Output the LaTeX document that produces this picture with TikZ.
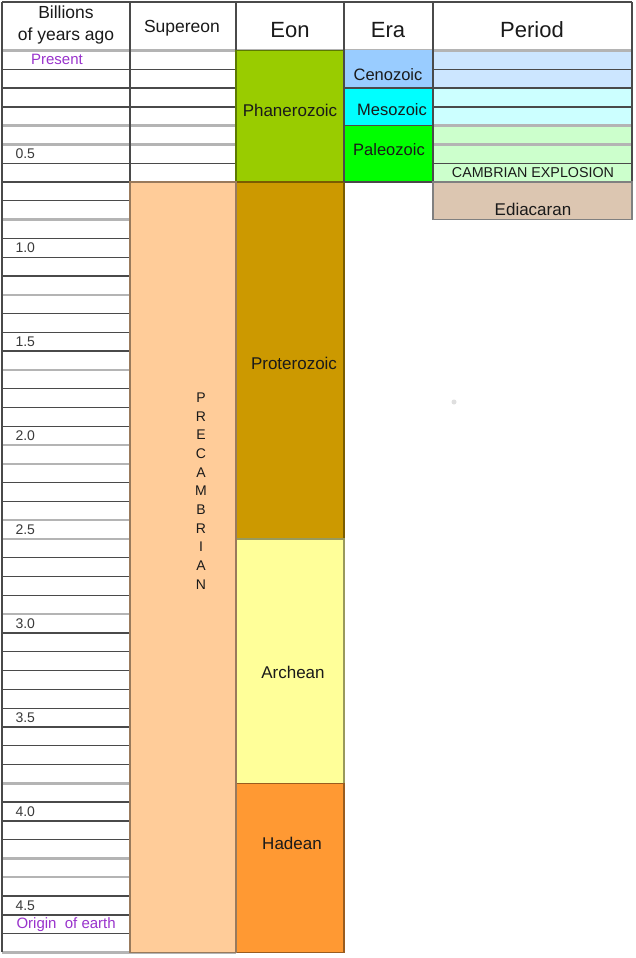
\documentclass[tikz,border=0pt]{standalone}
\usepackage{fontspec}
\setmainfont{Liberation Sans}
\definecolor{phan}{HTML}{99CC00}
\definecolor{prot}{HTML}{CC9900}
\definecolor{arch}{HTML}{FFFF99}
\definecolor{hade}{HTML}{FF9933}
\definecolor{prec}{HTML}{FFCC99}
\definecolor{ceno}{HTML}{99CCFF}
\definecolor{meso}{HTML}{00FFFF}
\definecolor{pale}{HTML}{00FF00}
\definecolor{pceno}{HTML}{CCE6FF}
\definecolor{pmeso}{HTML}{CCFFFF}
\definecolor{ppale}{HTML}{CCFFCC}
\definecolor{edia}{HTML}{DCC6B1}
\definecolor{purp}{HTML}{9933CC}
\definecolor{darkl}{HTML}{4A4A4A}
\definecolor{lightl}{HTML}{B4B4B4}
\definecolor{txt}{HTML}{1A1A1A}
\definecolor{numc}{HTML}{3A3A3A}
\begin{document}
\begin{tikzpicture}[x=1pt,y=-1pt,
  colbox/.style={anchor=north west, inner sep=0pt, outer sep=0pt, line width=1.3pt, draw=#1!60!black, fill=#1},
  dline/.style={draw=darkl, line width=1.3pt},
  lline/.style={draw=lightl, line width=2.4pt},
  hdr/.style={text=txt, font=\fontsize{22}{24}\selectfont},
  hdrs/.style={text=txt, font=\fontsize{17.5}{22}\selectfont, align=center},
  lbl/.style={text=txt, font=\fontsize{17}{20}\selectfont},
  num/.style={text=numc, anchor=west, font=\fontsize{14}{16}\selectfont},
  purpl/.style={text=purp, font=\fontsize{15}{17}\selectfont},
]
\useasboundingbox (0,0) rectangle (636,958);
\fill[white] (0,0) rectangle (636,958);
\def\yy#1{50.5+#1*18.79}
% period row fills
\fill[pceno] (433,50.5) rectangle (632,{\yy{2}});
\fill[pmeso] (433,{\yy{2}}) rectangle (632,{\yy{4}});
\fill[ppale] (433,{\yy{4}}) rectangle (632,{\yy{7}});
% row lines, left column (and supereon upper part)
\foreach \k in {1,2,3,6,7} \draw[dline] (2,{\yy{\k}}) -- (236,{\yy{\k}});
\foreach \k in {4,5} \draw[lline] (2,{\yy{\k}}) -- (236,{\yy{\k}});
\foreach \k in {8,10,11,12,14,15,16,18,19,20,23,24,27,28,29,31,32,33,34,35,36,37,38,40,41,42,45,46,47} \draw[dline] (2,{\yy{\k}}) -- (130,{\yy{\k}});
\foreach \k in {9,13,17,21,22,25,26,30,39,43,44} \draw[lline] (2,{\yy{\k}}) -- (130,{\yy{\k}});
\draw[lline] (2,{\yy{48}}) -- (236,{\yy{48}});
% period lines
\foreach \k in {1,2,3,6,7} \draw[dline] (433,{\yy{\k}}) -- (632,{\yy{\k}});
\foreach \k in {4,5} \draw[lline] (433,{\yy{\k}}) -- (632,{\yy{\k}});
% header lines
\draw[dline] (2,2) -- (632,2);
\draw[lline] (2,50.5) -- (632,50.5);
% verticals
\draw[dline] (2,2) -- (2,{\yy{48}});
\draw[dline] (130,2) -- (130,{\yy{48}});
\draw[dline] (236,2) -- (236,{\yy{48}});
\draw[dline] (344,2) -- (344,{\yy{7}});
\draw[dline] (433,2) -- (433,{\yy{7}});
\draw[dline] (632,2) -- (632,{\yy{7}});
% eon boxes
\node[colbox=phan, minimum width=108pt, minimum height=131.5pt] (phanbox) at (236,50.5) {};
\node[colbox=prot, minimum width=108pt, minimum height=357pt] (protbox) at (236,{\yy{7}}) {};
\node[colbox=arch, minimum width=108pt, minimum height=244.3pt] (archbox) at (236,{\yy{26}}) {};
\node[colbox=hade, minimum width=108pt, minimum height=169.1pt] (hadebox) at (236,{\yy{39}}) {};
% supereon
\node[colbox=prec, minimum width=106pt, minimum height=770.4pt] (precbox) at (130,{\yy{7}}) {};
% eras
\node[colbox=ceno, draw=none, minimum width=89pt, minimum height=37.58pt] (cenobox) at (344,50.5) {};
\node[colbox=meso, draw=none, minimum width=89pt, minimum height=37.58pt] (mesobox) at (344,{\yy{2}}) {};
\node[colbox=pale, draw=none, minimum width=89pt, minimum height=56.37pt] (palebox) at (344,{\yy{4}}) {};
\draw[dline] (344,{\yy{2}}) -- (433,{\yy{2}});
\draw[dline] (344,{\yy{4}}) -- (433,{\yy{4}});
\draw[dline] (344,{\yy{7}}) -- (433,{\yy{7}});
\draw[dline] (344,50.5) -- (344,{\yy{7}});
\draw[dline] (433,50.5) -- (433,{\yy{7}});
% ediacaran
\node[colbox=edia, draw=darkl!70, minimum width=199pt, minimum height=37.58pt] (ediabox) at (433,{\yy{7}}) {};
% header texts
\node[hdrs] (hbil) at (66,25) {Billions\\of years ago};
\node[hdrs] (hsup) at (182,28) {Supereon};
\node[hdr] (heon) at (290,30) {Eon};
\node[hdr] (hera) at (388,30) {Era};
\node[hdr] (hper) at (532,30) {Period};
% row labels
\node[purpl] (present) at (57,{\yy{0.5}}) {Present};
\node[num] (n05) at (12,{\yy{5.5}}) {0.5};
\node[num] (n10) at (12,{\yy{10.5}}) {1.0};
\node[num] (n15) at (12,{\yy{15.5}}) {1.5};
\node[num] (n20) at (12,{\yy{20.5}}) {2.0};
\node[num] (n25) at (12,{\yy{25.5}}) {2.5};
\node[num] (n30) at (12,{\yy{30.5}}) {3.0};
\node[num] (n35) at (12,{\yy{35.5}}) {3.5};
\node[num] (n40) at (12,{\yy{40.5}}) {4.0};
\node[num] (n45) at (12,{\yy{45.5}}) {4.5};
\node[purpl, anchor=west] (origin) at (13,{\yy{46.5}}) {Origin\ \ of earth};
% box labels
\node[lbl] (tphan) at (290,110) {Phanerozoic};
\node[lbl] (tprot) at (294,363) {Proterozoic};
\node[lbl] (tarch) at (293,672) {Archean};
\node[lbl] (thade) at (292,843) {Hadean};
\node[lbl, font=\fontsize{16.5}{20}\selectfont] (tceno) at (388,75) {Cenozoic};
\node[lbl, font=\fontsize{16.5}{20}\selectfont] (tmeso) at (392,110) {Mesozoic};
\node[lbl, font=\fontsize{16.5}{20}\selectfont] (tpale) at (389,150) {Paleozoic};
\node[lbl, font=\fontsize{14.3}{16}\selectfont] (tcamb) at (533,173) {CAMBRIAN EXPLOSION};
\node[lbl] (tedia) at (533,209) {Ediacaran};
\node[lbl, align=center, font=\fontsize{14}{18.7}\selectfont] (tprec) at (201,491) {P\\R\\E\\C\\A\\M\\B\\R\\I\\A\\N};
% stray dot
\fill[gray!25] (454,402) circle (2.5);
\end{tikzpicture}
\end{document}
